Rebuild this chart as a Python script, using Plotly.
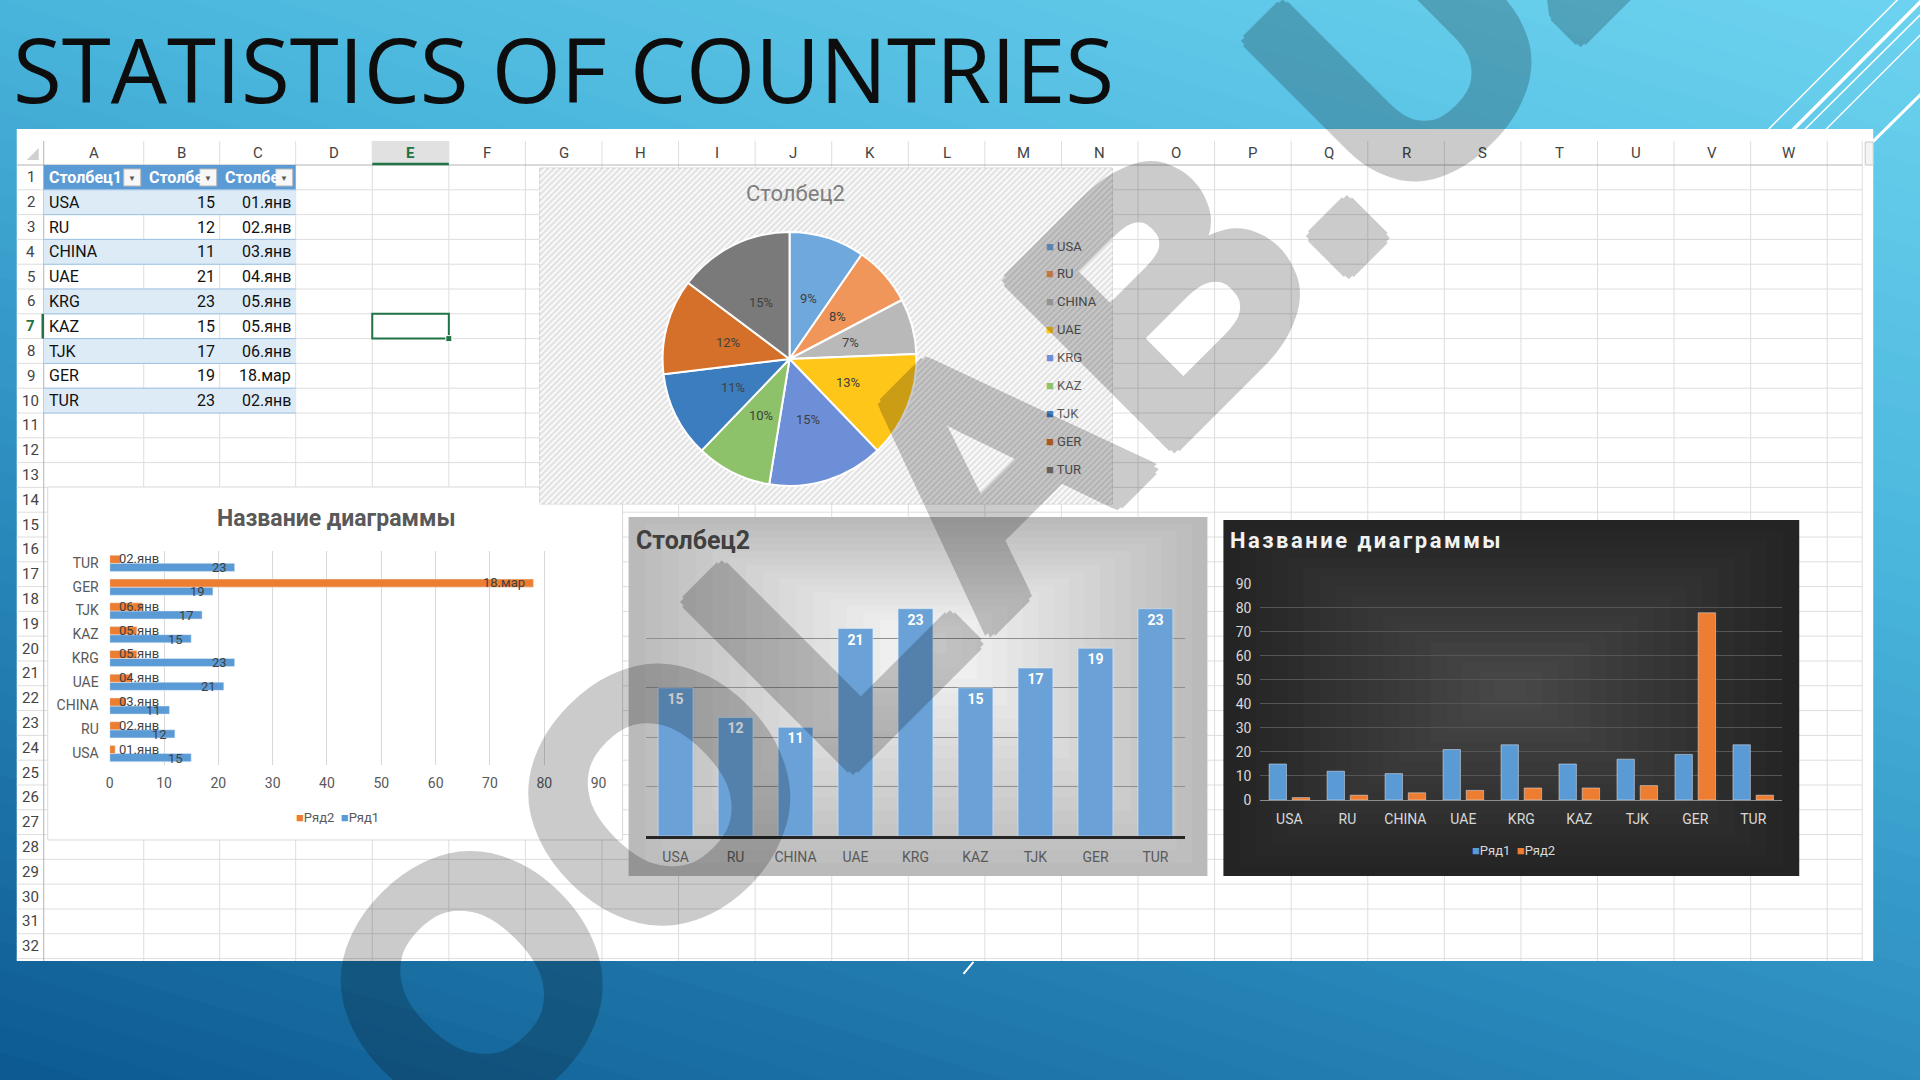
import math
import plotly.graph_objects as go

W, H = 1920, 1080

# ---------------- data ----------------
countries = ["USA", "RU", "CHINA", "UAE", "KRG", "KAZ", "TJK", "GER", "TUR"]
series1 = [15, 12, 11, 21, 23, 15, 17, 19, 23]            # Столбец2 / Ряд1
series2 = [1, 2, 3, 4, 5, 5, 6, 78, 2]                    # dates as day serials / Ряд2
date_labels = ["01.янв", "02.янв", "03.янв", "04.янв", "05.янв",
               "05.янв", "06.янв", "18.мар", "02.янв"]
pie_labels = ["9%", "8%", "7%", "13%", "15%", "10%", "11%", "12%", "15%"]
header_labels = ["Столбец1", "Столбе", "Столбе"]
col_letters = list("ABCDEFGHIJKLMNOPQRSTUVW")
series_names = ["Ряд1", "Ряд2"]
slide_title = "STATISTICS OF COUNTRIES"
pie_title = "Столбец2"
bar_title = "Столбец2"
chart_title = "Название диаграммы"
watermark = "OOLAB.UZ"
hbar_ticks = list(range(0, 100, 10))
n_rows = 32

pie_colors = ["#6fa8dc", "#f0965a", "#b9b9b9", "#ffc61a", "#6d8fd8",
              "#8dc16a", "#3c7dc0", "#d4702a", "#7a7a7a"]
BLUE = "#5b9bd5"
ORANGE = "#ed7d31"
FONT = "Roboto, Open Sans, sans-serif"

# layout scale about the slide centre (fine alignment of the sheet picture)
KX, KY, DX = 1.006, 1.015, 2.5


def PX(x):
    return (960 + (x - 960) * KX + DX) / W


def PY(y):
    return 1 - (540 + (y - 540) * KY) / H


shapes = []
annotations = []


def rect(x0, y0, x1, y1, fill, line=None, lw=0):
    shapes.append(dict(type="rect", xref="paper", yref="paper", layer="below",
                       x0=PX(x0), x1=PX(x1), y0=PY(y1), y1=PY(y0),
                       fillcolor=fill,
                       line=dict(color=line or "rgba(0,0,0,0)", width=lw)))


def seg(x0, y0, x1, y1, color, w):
    shapes.append(dict(type="line", xref="paper", yref="paper", layer="below",
                       x0=PX(x0), y0=PY(y0), x1=PX(x1), y1=PY(y1),
                       line=dict(color=color, width=w)))


def poly(points, fill):
    d = "M " + " L ".join(f"{PX(x):.5f},{PY(y):.5f}" for x, y in points) + " Z"
    shapes.append(dict(type="path", xref="paper", yref="paper", layer="below",
                       path=d, fillcolor=fill, line=dict(width=0)))


def txt(x, y, s, size=14, color="#444444", xanchor="center", yanchor="middle",
        family=FONT, weight="normal", raw=False, **kw):
    annotations.append(dict(
        x=x / W if raw else PX(x), y=1 - y / H if raw else PY(y),
        xref="paper", yref="paper", text=s, showarrow=False,
        xanchor=xanchor, yanchor=yanchor,
        font=dict(size=size, color=color, family=family, weight=weight), **kw))


def lerp_color(stops, u):
    u = max(0.0, min(1.0, u))
    for (u0, c0), (u1, c1) in zip(stops[:-1], stops[1:]):
        if u <= u1:
            t = (u - u0) / (u1 - u0) if u1 > u0 else 0
            c = [round(a + (b - a) * t) for a, b in zip(c0, c1)]
            return "rgb(%d,%d,%d)" % tuple(c)
    return "rgb(%d,%d,%d)" % stops[-1][1]


# ---------------- slide background (diagonal gradient) ----------------
bg_stops = [(0.0, (13, 90, 144)), (0.35, (43, 139, 189)),
            (0.65, (74, 181, 220)), (1.0, (109, 211, 239))]
rect(-40, -40, W + 40, H + 40, lerp_color(bg_stops, 0))
N = 60
for k in range(1, N):
    uk = k / N

    def yline(x, u=uk):
        return 1080 * (1 - (u - 0.35 * x / 1920) / 0.65)
    poly([(-3000, yline(-3000)), (5000, yline(5000)), (5000, -6000), (-3000, -6000)],
         lerp_color(bg_stops, uk + 0.5 / N))

# decorative white lines top-right
for (x0, y0, x1, y1, w) in [(1650, 248, 1900, -3, 1.5), (1675, 248, 1922, 0, 3.5),
                            (1690, 243, 1935, 0, 1.5), (1712, 243, 1935, 20, 1.5),
                            (1760, 253, 1935, 80, 3)]:
    seg(x0, y0, x1, y1, "white", w)

# ---------------- spreadsheet ----------------
PANEL = (16, 129, 1873, 961)
rect(*PANEL, "white")
HDR_TOP, HDR_BOT = 141, 165
ROW_H = 24.8
col_edges = [43, 143, 219, 295] + [295 + 76.6 * k for k in range(1, 21)]
SHEET_RIGHT = 1862


def row_top(r):
    return HDR_BOT + (r - 1) * ROW_H


GRID = "#dedede"
for xe in col_edges[1:] + [SHEET_RIGHT]:
    seg(xe, HDR_TOP, xe, PANEL[3], GRID, 1)
for r in range(1, n_rows + 1):
    seg(16, row_top(r) + ROW_H, SHEET_RIGHT, row_top(r) + ROW_H, GRID, 1)
seg(16, HDR_BOT, SHEET_RIGHT, HDR_BOT, "#b4b4b4", 1)
seg(43, HDR_TOP, 43, PANEL[3], "#b4b4b4", 1)
rect(1865, 142, 1873, 165, "#f4f4f4", "#c8c8c8", 1)
poly([(38, 148), (38, 160), (26, 160)], "#d0d0d0")

# selected column E / row 7
e_i = col_letters.index("E")
ex0, ex1 = col_edges[e_i], col_edges[e_i + 1]
rect(ex0, HDR_TOP, ex1, HDR_BOT, "#e1e1e1")
seg(ex0, HDR_BOT - 1, ex1, HDR_BOT - 1, "#217346", 2.5)
seg(42, row_top(7), 42, row_top(8), "#217346", 2.5)

# table fills
tx0, tx1 = col_edges[0], col_edges[3]
rect(tx0, row_top(1), tx1, row_top(2), BLUE)
for r in range(2, 11):
    if r % 2 == 0:
        rect(tx0, row_top(r), tx1, row_top(r + 1), "#ddebf7")
for r in range(2, 12):
    seg(tx0, row_top(r), tx1, row_top(r), "#9bc2e6", 1)
for c in range(3):
    bx1 = col_edges[c + 1] - 3
    rect(bx1 - 17, row_top(1) + 4, bx1, row_top(1) + 21, "#f7f7f7", "#b8b8b8", 1)
    txt(bx1 - 8.5, row_top(1) + 13, "▼", size=8, color="#595959")

# E7 selection
rect(ex0, row_top(7), ex1, row_top(8), "rgba(0,0,0,0)", "#217346", 2)
rect(ex1 - 3, row_top(8) - 3, ex1 + 3, row_top(8) + 3, "#217346", "white", 1)

for i, L in enumerate(col_letters):
    cx = (col_edges[i] + col_edges[i + 1]) / 2
    if L == "E":
        txt(cx, 153, L, size=15, color="#217346", weight="bold")
    else:
        txt(cx, 153, L, size=15, color="#444444")
for r in range(1, n_rows + 1):
    cy = row_top(r) + ROW_H / 2
    if r == 7:
        txt(30, cy, str(r), size=15, color="#217346", weight="bold")
    else:
        txt(30, cy, str(r), size=15, color="#444444")

for c, lab in enumerate(header_labels):
    txt(col_edges[c] + 3, row_top(1) + ROW_H / 2, lab, size=16, color="white",
        xanchor="left", weight="bold")
for i, (name, v, d) in enumerate(zip(countries, series1, date_labels)):
    cy = row_top(i + 2) + ROW_H / 2
    txt(col_edges[0] + 3, cy, name, size=16, color="#111111", xanchor="left")
    txt(col_edges[2] - 3, cy, str(v), size=16, color="#111111", xanchor="right")
    txt(col_edges[3] - 3, cy, d, size=16, color="#111111", xanchor="right")

# ---------------- chart backgrounds ----------------
LEFT = (47, 487, 622, 840)
rect(*LEFT, "white", "#d9d9d9", 1)
PIEBOX = (539, 168, 1112, 504)
rect(*PIEBOX, "#e3e3e3", "#d4d4d4", 1)
bh = PIEBOX[3] - PIEBOX[1]
k = 0
while True:
    xs = PIEBOX[0] + k * 6 - bh
    if xs > PIEBOX[2]:
        break
    x_a, y_a = xs, PIEBOX[3]
    x_b, y_b = xs + bh, PIEBOX[1]
    if x_a < PIEBOX[0]:
        y_a -= PIEBOX[0] - x_a
        x_a = PIEBOX[0]
    if x_b > PIEBOX[2]:
        y_b += x_b - PIEBOX[2]
        x_b = PIEBOX[2]
    if x_a < x_b and y_a > y_b:
        seg(x_a, y_a, x_b, y_b, "rgba(255,255,255,0.8)", 2)
    k += 1

MID = (628, 517, 1207, 876)
DARK = (1223, 520, 1799, 876)


def radial_rects(box, center, c_out, c_in, n=18):
    x0, y0, x1, y1 = box
    cx, cy = center
    for j in range(n):
        f = 1 - j / n
        t = j / (n - 1)
        col = "rgb(%d,%d,%d)" % tuple(round(a + (b - a) * t) for a, b in zip(c_out, c_in))
        rect(cx - (cx - x0) * f, cy - (cy - y0) * f, cx + (x1 - cx) * f, cy + (y1 - cy) * f, col)


radial_rects(MID, (930, 640), (186, 186, 186), (246, 246, 246))
radial_rects(DARK, (1510, 690), (36, 36, 36), (72, 72, 72))

seg(973, 962, 963, 974, "white", 2)

# ---------------- titles ----------------
txt(7, 61, slide_title, size=89, color="#0d0d0d", xanchor="left",
    family="Open Sans, sans-serif", raw=True)
txt(795, 193, pie_title, size=22, color="#7f7f7f")
txt(335, 518, chart_title, size=23, color="#595959", weight="bold")
txt(633, 540, bar_title, size=25, color="#404040", xanchor="left", weight="bold")
txt(1228, 540, "<span style='letter-spacing:2.5px'>" + chart_title + "</span>",
    size=22, color="#f2f2f2", xanchor="left", weight="bold")

# pie legend
for i, (name, col) in enumerate(zip(countries, pie_colors)):
    ly = 246 + i * 27.9
    txt(1044, ly, f"<span style='color:{col}'>■</span> {name}", size=13,
        color="#595959", xanchor="left")

# chart legends (Excel style, compact)
txt(337, 818, f"<span style='color:{ORANGE}'>■</span>{series_names[1]}  "
              f"<span style='color:{BLUE}'>■</span>{series_names[0]}",
    size=13, color="#595959")
txt(1513, 851, f"<span style='color:{BLUE}'>■</span>{series_names[0]}  "
               f"<span style='color:{ORANGE}'>■</span>{series_names[1]}",
    size=13, color="#d9d9d9")

# ---------------- traces ----------------
fig = go.Figure()

PC = (789, 359)
PR = 127
fig.add_trace(go.Pie(
    labels=countries, values=series1, textinfo="none",
    sort=False, direction="clockwise", rotation=0,
    marker=dict(colors=pie_colors, line=dict(color="white", width=2)),
    domain=dict(x=[PX(PC[0] - PR), PX(PC[0] + PR)], y=[PY(PC[1] + PR), PY(PC[1] - PR)]),
    showlegend=False, hoverinfo="skip"))
# Excel-style data labels at half radius along each slice bisector
total = sum(series1)
cum = 0
for v, lab in zip(series1, pie_labels):
    ang = 2 * math.pi * (cum + v / 2) / total
    cum += v
    lx = PC[0] + 0.5 * PR * math.sin(ang)
    ly = PC[1] - 0.5 * PR * math.cos(ang)
    txt(lx, ly, lab, size=13, color="#404040")

fig.add_trace(go.Bar(y=countries, x=series1, orientation="h", name=series_names[0],
                     marker_color=BLUE, width=0.34, offset=-0.36,
                     xaxis="x", yaxis="y", showlegend=False))
fig.add_trace(go.Bar(y=countries, x=series2, orientation="h", name=series_names[1],
                     marker_color=ORANGE, width=0.34, offset=-0.02,
                     xaxis="x", yaxis="y", showlegend=False))
for c, v1, v2, d in zip(countries, series1, series2, date_labels):
    annotations.append(dict(x=v1, y=c, xref="x", yref="y", text=str(v1), showarrow=False,
                            xanchor="right", xshift=-6, yshift=-5,
                            font=dict(size=13, color="#404040", family=FONT)))
    big = v2 >= 20
    annotations.append(dict(x=v2 if big else 0, y=c, xref="x", yref="y", text=d,
                            showarrow=False, xanchor="right" if big else "left",
                            xshift=-6 if big else 7, yshift=4,
                            font=dict(size=13, color="#404040", family=FONT)))

fig.add_trace(go.Bar(x=countries, y=series1, name=bar_title, marker_color="#6aa2d8",
                     width=0.58, offset=-0.29, text=series1, textposition="inside",
                     insidetextanchor="end", textangle=0,
                     textfont=dict(color="white", size=14, family=FONT, weight="bold"),
                     xaxis="x2", yaxis="y2", showlegend=False))

fig.add_trace(go.Bar(x=countries, y=series1, name=series_names[0], marker_color=BLUE,
                     width=0.3, offset=-0.35, xaxis="x3", yaxis="y3", showlegend=False))
fig.add_trace(go.Bar(x=countries, y=series2, name=series_names[1], marker_color=ORANGE,
                     width=0.3, offset=0.05, xaxis="x3", yaxis="y3", showlegend=False))

# watermark overlay (heavy strokes via text-shadow, uniform group opacity)
wm_shadow = ", ".join(f"{dx}px {dy}px 0 #000" for dx, dy in
                      [(7, 0), (-7, 0), (0, 7), (0, -7), (5, 5), (-5, -5), (5, -5), (-5, 5)])
annotations.append(dict(x=1010 / W, y=1 - 444 / H, xref="paper", yref="paper",
                        text=watermark, showarrow=False, textangle=-45,
                        xanchor="center", yanchor="middle", opacity=0.2,
                        font=dict(size=341, color="#000000",
                                  family="Liberation Sans, Arial, sans-serif",
                                  weight="bold", shadow=wm_shadow)))

tickfont_l = dict(size=14, color="#595959", family=FONT)
fig.update_layout(
    width=W, height=H, margin=dict(l=0, r=0, t=0, b=0),
    paper_bgcolor="#2b8bbd", plot_bgcolor="rgba(0,0,0,0)",
    barmode="group", font=dict(family=FONT), showlegend=False,
    shapes=shapes, annotations=annotations,
    xaxis=dict(domain=[PX(109), PX(598)], range=[0, 90], tickvals=hbar_ticks,
               showgrid=True, gridcolor="#d9d9d9", zeroline=False, showline=False,
               ticks="", tickfont=tickfont_l, anchor="y", fixedrange=True,
               ticklabelstandoff=8),
    yaxis=dict(domain=[PY(765), PY(551)], type="category", categoryorder="array",
               categoryarray=countries, range=[-0.5, 8.5], showgrid=False,
               zeroline=False, ticks="", tickfont=tickfont_l, anchor="x",
               ticklabelstandoff=10),
    xaxis2=dict(domain=[PX(645), PX(1185)], type="category", categoryorder="array",
                categoryarray=countries, range=[-0.5, 8.5], showline=True,
                linecolor="#262626", linewidth=3, ticks="", anchor="y2",
                tickfont=dict(size=14, color="#595959", family=FONT),
                ticklabelstandoff=6),
    yaxis2=dict(domain=[PY(836), PY(589)], range=[0, 25], dtick=5,
                showticklabels=False, showgrid=True, gridcolor="#8f8f8f",
                zeroline=False, anchor="x2"),
    xaxis3=dict(domain=[PX(1260), PX(1782)], type="category", categoryorder="array",
                categoryarray=countries, range=[-0.5, 8.5], showline=True,
                linecolor="#8c8c8c", linewidth=1, ticks="", anchor="y3",
                tickfont=dict(size=14, color="#d9d9d9", family=FONT),
                ticklabelstandoff=6),
    yaxis3=dict(domain=[PY(800), PY(584)], range=[0, 90], dtick=10, showgrid=True,
                gridcolor="#555555", zeroline=False, anchor="x3", ticks="",
                tickfont=dict(size=14, color="#d9d9d9", family=FONT),
                ticklabelstandoff=8),
)

fig.write_html("out.html",
               config={"displayModeBar": False, "staticPlot": True},
               post_script="document.body.style.margin='0';"
                           "document.body.style.overflow='hidden';")
